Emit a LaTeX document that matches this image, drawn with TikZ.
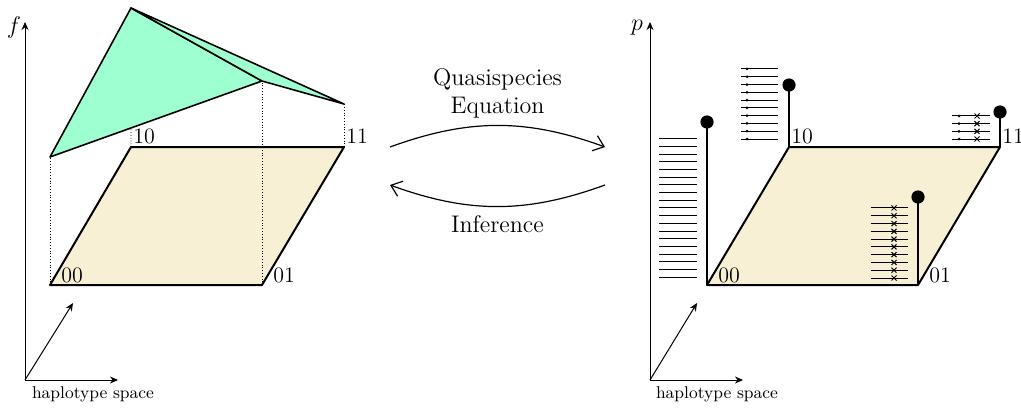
\documentclass[tikz,border=0pt]{standalone}
\usepackage{tikz}
\usetikzlibrary{arrows.meta,positioning,calc,shapes.misc}
\definecolor{fitgreen}{RGB}{158,255,208}
\definecolor{planecol}{RGB}{247,240,212}

\begin{document}
\begin{tikzpicture}[
    x=0.5pt, y=0.5pt,
    axis/.style={-{Stealth[length=4pt,width=3.5pt]}, line width=0.5pt},
    plane/.style={draw, line width=1pt, fill=planecol, line join=round},
    surf/.style={draw, line width=0.8pt, fill=fitgreen, line join=round},
    drop/.style={densely dotted, line width=0.4pt},
    corner/.style={inner sep=0pt, anchor=south west, font=\fontsize{11}{13}\selectfont},
    axlab/.style={inner sep=0pt, font=\fontsize{8.5}{10}\selectfont},
    ylab/.style={inner sep=0pt, font=\large},
    stem/.style={line width=1pt},
    ball/.style={circle, fill, inner sep=0pt, minimum size=6.6pt},
    read/.style={line width=0.5pt},
    mut/.style={cross out, draw, line width=0.5pt, inner sep=0pt, minimum size=2pt},
    flow/.style={-{Straight Barb[length=5pt,width=8pt]}, line width=0.6pt},
    flowlab/.style={font=\large, align=center, inner sep=0pt}
  ]
    \useasboundingbox (0,0) rectangle (1021,408);
    % fitness landscape
    \coordinate (lo) at (25,28);
    \coordinate (lfy) at (25,386);
    \coordinate (lhx) at (118,28);
    \coordinate (ldg) at (73,105);
    \draw[axis] (lo) -- (lfy);
    \draw[axis] (lo) -- (lhx);
    \draw[axis] (lo) -- (ldg);
    \node[ylab] (lf) at (14,380) {$f$};
    \node[axlab] (lhap) at (93,14) {haplotype space};
    \coordinate (l00) at (50,123);
    \coordinate (l01) at (262,123);
    \coordinate (l11) at (344,261);
    \coordinate (l10) at (131,261);
    \path[plane] (l00) -- (l01) -- (l11) -- (l10) -- cycle;
    \node[corner, xshift=5.5pt, yshift=1pt] (n00) at (l00) {00};
    \node[corner, xshift=5.5pt, yshift=1pt] (n01) at (l01) {01};
    \node[corner, xshift=1pt, yshift=1.5pt] (n10) at (l10) {10};
    \node[corner, xshift=1pt, yshift=1.5pt] (n11) at (l11) {11};
    \coordinate (t00) at (50,251);
    \coordinate (t10) at (131,400);
    \coordinate (t01) at (262,327);
    \coordinate (t11) at (344,304);
    \draw[drop] (l00) -- (t00);
    \draw[drop] (l01) -- (t01);
    \draw[drop] (l11) -- (t11);
    \draw[drop] (l10) -- ($(t00)!0.382!(t01)$);
    \draw[surf] (t00) -- (t10) -- (t01) -- cycle;
    \draw[surf] (t10) -- (t11) -- (t01) -- cycle;
    % arrows between the two
    \coordinate (qa) at (390,261);
    \coordinate (qb) at (605,261);
    \coordinate (ia) at (605,223);
    \coordinate (ib) at (390,223);
    \draw[flow] (qa) to[bend left=20] node[flowlab, above=3.5pt] (qeq) {Quasispecies\\Equation} (qb);
    \draw[flow] (ia) to[bend left=20] node[flowlab, below=4pt] (inf) {Inference} (ib);
    % haplotype distribution
    \coordinate (ro) at (650,28);
    \coordinate (rpy) at (650,386);
    \coordinate (rhx) at (743,28);
    \coordinate (rdg) at (697,105);
    \draw[axis] (ro) -- (rpy);
    \draw[axis] (ro) -- (rhx);
    \draw[axis] (ro) -- (rdg);
    \node[ylab] (rp) at (637,380) {$p$};
    \node[axlab] (rhap) at (717,14) {haplotype space};
    \coordinate (r00) at (707,123);
    \coordinate (r01) at (918,123);
    \coordinate (r11) at (1000,261);
    \coordinate (r10) at (789,261);
    \path[plane] (r00) -- (r01) -- (r11) -- (r10) -- cycle;
    \node[corner, xshift=5.5pt, yshift=1pt] (m00) at (r00) {00};
    \node[corner, xshift=5.5pt, yshift=1pt] (m01) at (r01) {01};
    \node[corner, xshift=1pt, yshift=1.5pt] (m10) at (r10) {10};
    \node[corner, xshift=1pt, yshift=1.5pt] (m11) at (r11) {11};
    \node[ball] (b00) at (707,286) {};
    \node[ball] (b10) at (789,323) {};
    \node[ball] (b11) at (1000,296) {};
    \node[ball] (b01) at (918,211) {};
    \draw[stem] (r00) -- (b00.center);
    \draw[stem] (r10) -- (b10.center);
    \draw[stem] (r11) -- (b11.center);
    \draw[stem] (r01) -- (b01.center);
    \foreach \i in {0,...,18}
      \draw[read] (659,{131+\i*7.667}) -- (697,{131+\i*7.667});
    \foreach \i in {0,...,9} {
      \draw[read] (741,{269+\i*7.78}) -- (778,{269+\i*7.78});
      \fill (747,{269+\i*7.78}) circle (1.5);
    }
    \foreach \i in {0,...,3} {
      \draw[read] (952,{269+\i*7.67}) -- (990,{269+\i*7.67});
      \fill (959,{269+\i*7.67}) circle (1.5);
      \node[mut] at (977,{269+\i*7.67}) {};
    }
    \foreach \i in {0,...,9} {
      \draw[read] (871,{130+\i*7.78}) -- (908,{130+\i*7.78});
      \node[mut] at (894,{130+\i*7.78}) {};
    }
  \end{tikzpicture}
\end{document}
